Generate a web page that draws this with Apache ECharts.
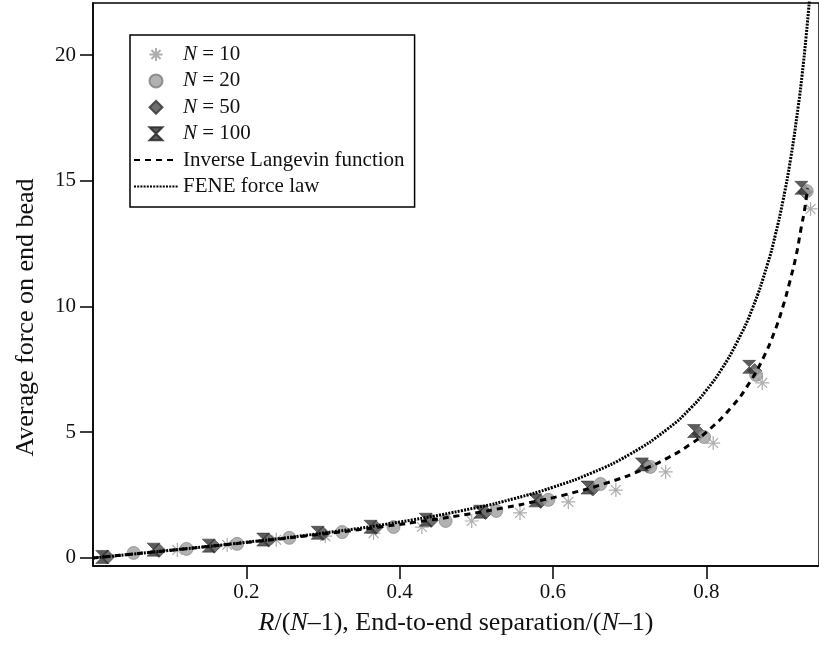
<!DOCTYPE html>
<html><head><meta charset="utf-8">
<script src="https://cdn.jsdelivr.net/npm/echarts@6/dist/echarts.min.js"></script>
<style>html,body{margin:0;padding:0;background:#fff}#chart{width:819px;height:645px}</style>
</head><body><div id="chart"></div>
<script>
// ---- data ----
const xTicks = [0.2, 0.4, 0.6, 0.8];
const yTicks = [0, 5, 10, 15, 20];

const n10X = [0.110, 0.175, 0.239, 0.303, 0.366, 0.429, 0.494, 0.557, 0.620, 0.682, 0.747, 0.809, 0.873, 0.936];
const n10Y = [0.32, 0.52, 0.72, 0.87, 0.99, 1.23, 1.47, 1.79, 2.23, 2.70, 3.42, 4.57, 6.96, 13.88];

const n20X = [0.053, 0.122, 0.188, 0.256, 0.325, 0.392, 0.460, 0.526, 0.594, 0.662, 0.727, 0.797, 0.865, 0.931];
const n20Y = [0.20, 0.36, 0.56, 0.80, 1.03, 1.23, 1.47, 1.87, 2.31, 2.94, 3.62, 4.81, 7.28, 14.59];

const n50X = [0.019, 0.086, 0.158, 0.229, 0.300, 0.369, 0.441, 0.512, 0.584, 0.652, 0.723, 0.791, 0.863, 0.929];
const n50Y = [0.04, 0.30, 0.47, 0.71, 0.97, 1.21, 1.49, 1.81, 2.25, 2.74, 3.66, 4.95, 7.45, 14.55];

const n100X = [0.012, 0.079, 0.151, 0.222, 0.293, 0.362, 0.434, 0.505, 0.577, 0.645, 0.716, 0.784, 0.856, 0.924];
const n100Y = [0.04, 0.33, 0.49, 0.73, 1.00, 1.24, 1.52, 1.84, 2.29, 2.80, 3.72, 5.05, 7.60, 14.72];

const langevinX = [0, 0.05, 0.10, 0.164, 0.241, 0.313, 0.379, 0.438, 0.491, 0.537, 0.578, 0.614, 0.672, 0.716, 0.751, 0.778, 0.800, 0.833, 0.857, 0.875, 0.889, 0.900, 0.909, 0.917, 0.923, 0.929, 0.932];
const langevinY = [0, 0.15, 0.30, 0.50, 0.75, 1.00, 1.25, 1.50, 1.75, 2.00, 2.25, 2.50, 3.00, 3.50, 4.00, 4.50, 5.00, 6.00, 7.00, 8.00, 9.00, 10.0, 11.0, 12.0, 13.0, 14.0, 14.7];

const feneX = [0, 0.1, 0.2, 0.3, 0.4, 0.5, 0.55, 0.6, 0.65, 0.7, 0.75, 0.78, 0.8, 0.82, 0.84, 0.86, 0.88, 0.89, 0.9, 0.91, 0.92, 0.925, 0.93, 0.935];
const feneY = [0, 0.303, 0.625, 0.989, 1.429, 2.0, 2.366, 2.813, 3.377, 4.118, 5.143, 5.97, 6.667, 7.51, 8.58, 9.91, 11.70, 12.84, 14.21, 15.88, 17.97, 19.22, 20.68, 22.34];

const zip = (xs, ys) => xs.map((x, i) => [x, ys[i]]);

const FONT = 'Liberation Serif';
const asteriskPath = 'path://M0,5L10,5M5,0L5,10M1.5,1.5L8.5,8.5M8.5,1.5L1.5,8.5';
const hourglassPath = 'path://M0,0L10,0L5,5L10,10L0,10L5,5Z';
const diamondPath = 'path://M5,0L10,5L5,10L0,5Z';

const chart = echarts.init(document.getElementById('chart'), null, {renderer: 'canvas'});
chart.setOption({
  animation: false,
  backgroundColor: '#ffffff',
  textStyle: {fontFamily: FONT},
  grid: {left: 93, right: -3, top: 3, bottom: 79, show: true, borderColor: '#000', borderWidth: 1.5, backgroundColor: 'transparent'},
  xAxis: {
    type: 'value', min: 0, max: 0.947,
    axisLine: {onZero: false, lineStyle: {color: '#000', width: 1.5}},
    axisTick: {show: true, inside: false, length: 13, lineStyle: {color: '#000', width: 1.5}, customValues: xTicks},
    axisLabel: {customValues: xTicks, color: '#111', fontSize: 21, fontFamily: FONT, margin: 16, formatter: v => v.toFixed(1)},
    splitLine: {show: false},
    name: '{i|R}/({i|N}–1), End-to-end separation/({i|N}–1)',
    nameLocation: 'middle', nameGap: 44,
    nameTextStyle: {color: '#111', fontSize: 26, fontFamily: FONT,
      rich: {i: {fontStyle: 'italic', fontSize: 26, fontFamily: FONT, color: '#111'}}}
  },
  yAxis: {
    type: 'value', min: -0.32, max: 22.07,
    axisLine: {show: true, onZero: false, lineStyle: {color: '#000', width: 1.5}},
    axisTick: {show: true, inside: false, length: 13, lineStyle: {color: '#000', width: 1.5}, customValues: yTicks},
    axisLabel: {customValues: yTicks, color: '#111', fontSize: 21, fontFamily: FONT, margin: 17},
    splitLine: {show: false},
    name: 'Average force on end bead',
    nameLocation: 'middle', nameGap: 54,
    nameTextStyle: {color: '#111', fontSize: 26, fontFamily: FONT, padding: [0, 66, 0, 0]}
  },
  legend: {
    show: true, orient: 'vertical', left: 130, top: 35,
    backgroundColor: '#fff', borderColor: '#000', borderWidth: 1.5,
    padding: [9, 10, 10, 3], itemGap: 5.4, itemWidth: 44, itemHeight: 13,
    data: ['N = 10', 'N = 20', 'N = 50', 'N = 100', 'Inverse Langevin function', 'FENE force law'],
    formatter: name => name.startsWith('N = ') ? '{i|N}' + name.slice(1) : name,
    textStyle: {color: '#111', fontSize: 21, lineHeight: 21, fontFamily: FONT,
      rich: {i: {fontStyle: 'italic', fontSize: 21, lineHeight: 21, fontFamily: FONT, color: '#111'}}}
  },
  series: [
    {name: 'N = 10', type: 'scatter', z: 2, symbol: asteriskPath, symbolSize: 14,
      itemStyle: {color: 'rgba(0,0,0,0)', borderColor: '#9a9a9a', borderWidth: 1.2},
      data: zip(n10X, n10Y)},
    {name: 'N = 50', type: 'scatter', z: 3, symbol: diamondPath, symbolSize: 14,
      itemStyle: {color: '#4a4a4a', borderColor: '#333', borderWidth: 0.8},
      data: zip(n50X, n50Y)},
    {name: 'N = 20', type: 'scatter', z: 4, symbol: 'circle', symbolSize: 13,
      itemStyle: {color: '#9e9e9e', borderColor: '#7d7d7d', borderWidth: 0.8},
      data: zip(n20X, n20Y)},
    {name: 'N = 100', type: 'scatter', z: 5, symbol: hourglassPath, symbolSize: 13,
      itemStyle: {color: '#333', borderColor: '#222', borderWidth: 0.6},
      data: zip(n100X, n100Y)},
    {name: 'Inverse Langevin function', type: 'line', z: 6, symbol: 'none', smooth: true,
      itemStyle: {color: 'rgba(0,0,0,0)'},
      lineStyle: {color: '#000', width: 3, type: [6, 5]},
      data: zip(langevinX, langevinY)},
    {name: 'FENE force law', type: 'line', z: 6, symbol: 'none', smooth: true,
      itemStyle: {color: 'rgba(0,0,0,0)'},
      lineStyle: {color: '#000', width: 3, type: [2, 1.2]},
      data: zip(feneX, feneY)}
  ]
});
</script>
</body></html>
